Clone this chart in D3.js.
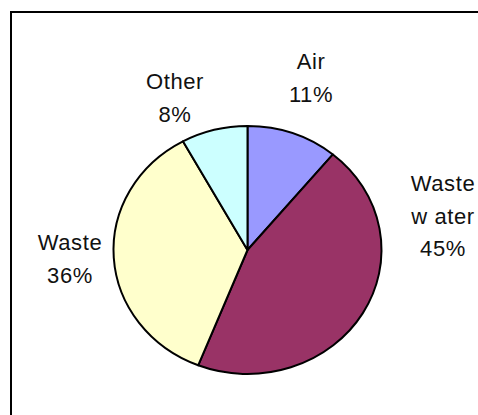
<!DOCTYPE html>
<html>
<head>
<meta charset="utf-8">
<script src="https://cdn.jsdelivr.net/npm/d3@7"></script>
<style>
  body { margin: 0; background: #fff; }
  svg { display: block; }
  text { font-family: "Liberation Sans", Arial, sans-serif; font-size: 22px; letter-spacing: 0.6px; fill: #111; }
</style>
</head>
<body>
<div id="wrapper"></div>
<script>
// data
const categories = ["Air", "Waste water", "Waste", "Other"]
const labelLines = [["Air", "11%"], ["Waste", "w ater", "45%"], ["Waste", "36%"], ["Other", "8%"]]
const shares = [11, 45, 36, 8]
const colors = ["#9999ff", "#993366", "#ffffcc", "#ccffff"]

const dataset = categories.map((c, i) => ({ name: c, value: shares[i], lines: labelLines[i], color: colors[i] }))

// dimensions
const dimensions = { width: 478, height: 415 }
const center = { x: 247.5, y: 250 }
const ry = 124
const rx = 134

// label anchor positions (centre x, first baseline y)
const labelPos = {
  "Air": [311, 69],
  "Waste water": [443, 191],
  "Waste": [70, 250],
  "Other": [175, 89],
}
const lineHeight = 32.5

const svg = d3.select("#wrapper")
  .append("svg")
    .attr("width", dimensions.width)
    .attr("height", dimensions.height)

// chart frame (runs off right and bottom edge)
svg.append("rect")
    .attr("x", 11)
    .attr("y", 12)
    .attr("width", 600)
    .attr("height", 600)
    .attr("fill", "none")
    .attr("stroke", "#000")
    .attr("stroke-width", 2)

const pie = d3.pie()
  .sort(null)
  .value(d => d.value)

const arc = d3.arc()
  .innerRadius(0)
  .outerRadius(ry)

const pieG = svg.append("g")
  .attr("transform", `translate(${center.x},${center.y}) scale(${rx / ry},1)`)

pieG.selectAll("path")
  .data(pie(dataset))
  .join("path")
    .attr("d", arc)
    .attr("fill", d => d.data.color)
    .attr("stroke", "#000")
    .attr("stroke-width", 2)
    .attr("stroke-linejoin", "round")
    .attr("vector-effect", "non-scaling-stroke")

// labels
const labels = svg.selectAll(".label")
  .data(dataset)
  .join("text")
    .attr("class", "label")
    .attr("text-anchor", "middle")

labels.selectAll("tspan")
  .data(d => d.lines.map((l, i) => ({ text: l, x: labelPos[d.name][0], y: labelPos[d.name][1] + i * lineHeight })))
  .join("tspan")
    .attr("x", d => d.x)
    .attr("y", d => d.y)
    .text(d => d.text)
</script>
</body>
</html>
